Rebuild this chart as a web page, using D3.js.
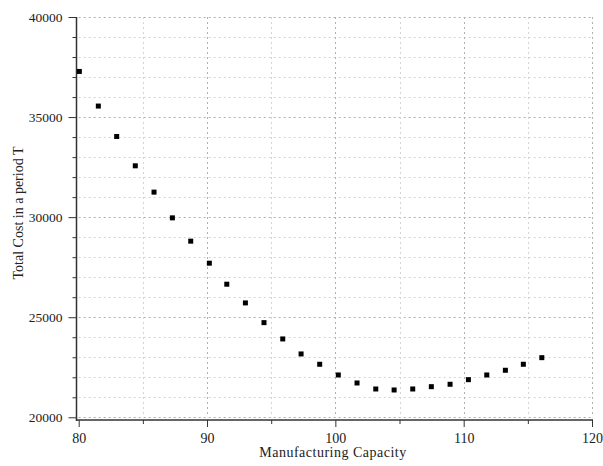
<!DOCTYPE html>
<html>
<head>
<meta charset="utf-8">
<script src="https://cdn.jsdelivr.net/npm/d3@7"></script>
<style>
  body { margin: 0; background: #fff; }
  text { font-family: "Liberation Serif", "Times New Roman", serif; fill: #222; }
</style>
</head>
<body>
<div id="chart"></div>
<script>
// capacity (x) and total cost (y)
var capacity = [80.05, 81.53, 82.96, 84.41, 85.87, 87.30, 88.73, 90.18, 91.54, 92.99,
                94.44, 95.90, 97.33, 98.78, 100.23, 101.69, 103.15, 104.58, 106.03, 107.48,
                108.94, 110.37, 111.80, 113.25, 114.65, 116.09];
var totalCost = [37280, 35550, 34030, 32565, 31250, 29965, 28800, 27700, 26650, 25715,
                 24730, 23915, 23165, 22650, 22115, 21715, 21415, 21365, 21415, 21530,
                 21650, 21880, 22115, 22350, 22650, 22980];

var xMajor = [80, 90, 100, 110, 120];
var xMinor = [85, 95, 105, 115];
var yMajor = [20000, 25000, 30000, 35000, 40000];
var yMinor = [21000, 22000, 23000, 24000, 26000, 27000, 28000, 29000,
              31000, 32000, 33000, 34000, 36000, 37000, 38000, 39000];

var width = 603, height = 466;
var plot = {left: 78.7, right: 592, top: 17, bottom: 417.3};
var axisX = 76.5, axisY = 420;

var svg = d3.select("#chart").append("svg")
    .attr("width", width)
    .attr("height", height);

var x = d3.scaleLinear().domain([80, 120]).range([plot.left, plot.right]);
var y = d3.scaleLinear().domain([20000, 40000]).range([plot.bottom, plot.top]);

//gridlines, minor ones lighter
var grid = svg.append("g").attr("class", "grid");
grid.selectAll("line.hminor").data(yMinor).enter().append("line")
    .attr("x1", plot.left).attr("x2", plot.right)
    .attr("y1", d => Math.round(y(d)) + 0.5).attr("y2", d => Math.round(y(d)) + 0.5)
    .attr("stroke", "#d4d4d4").attr("stroke-dasharray", "2,3");
grid.selectAll("line.hmajor").data(yMajor).enter().append("line")
    .attr("x1", plot.left).attr("x2", plot.right)
    .attr("y1", d => Math.round(y(d)) + 0.5).attr("y2", d => Math.round(y(d)) + 0.5)
    .attr("stroke", "#b0b0b0").attr("stroke-dasharray", "2,3");
grid.selectAll("line.vminor").data(xMinor).enter().append("line")
    .attr("y1", plot.top).attr("y2", plot.bottom)
    .attr("x1", d => Math.round(x(d)) + 0.5).attr("x2", d => Math.round(x(d)) + 0.5)
    .attr("stroke", "#d4d4d4").attr("stroke-dasharray", "2,3");
grid.selectAll("line.vmajor").data(xMajor.slice(1)).enter().append("line")
    .attr("y1", plot.top).attr("y2", plot.bottom)
    .attr("x1", d => Math.round(x(d)) + 0.5).attr("x2", d => Math.round(x(d)) + 0.5)
    .attr("stroke", "#b0b0b0").attr("stroke-dasharray", "2,3");

//axes
var yAxis = svg.append("g")
    .attr("transform", "translate(" + axisX + ",0)")
    .call(d3.axisLeft(y).tickValues(yMajor).tickSize(8).tickPadding(6)
        .tickFormat(d3.format("d")).tickSizeOuter(0));
yAxis.append("g")
    .call(d3.axisLeft(y).tickValues(yMinor).tickSize(4).tickFormat("").tickSizeOuter(0))
    .select(".domain").remove();
yAxis.selectAll("text").style("font-size", "13.5px").attr("font-family", null);

var xAxis = svg.append("g")
    .attr("transform", "translate(0," + axisY + ")")
    .call(d3.axisBottom(x).tickValues(xMajor).tickSize(7).tickPadding(6).tickSizeOuter(0));
xAxis.append("g")
    .call(d3.axisBottom(x).tickValues(xMinor).tickSize(4).tickFormat("").tickSizeOuter(0))
    .select(".domain").remove();
xAxis.selectAll("text").style("font-size", "14px").attr("font-family", null);

svg.selectAll(".domain").remove();
svg.selectAll(".tick line").attr("stroke", "#333");

//axis lines
svg.append("line")
    .attr("x1", axisX).attr("x2", axisX)
    .attr("y1", y(40000)).attr("y2", axisY + 1)
    .attr("stroke", "#333").attr("stroke-width", 1.5);
svg.append("line")
    .attr("x1", axisX).attr("x2", x(120) + 1)
    .attr("y1", axisY).attr("y2", axisY)
    .attr("stroke", "#333").attr("stroke-width", 1.5);

//points
svg.append("g").selectAll("rect")
    .data(capacity).enter().append("rect")
    .attr("x", (d, i) => x(d) - 2.5)
    .attr("y", (d, i) => y(totalCost[i]) - 2.5)
    .attr("width", 5)
    .attr("height", 5)
    .attr("fill", "#000");

//axis titles
svg.append("text")
    .attr("x", 333)
    .attr("y", 457)
    .attr("text-anchor", "middle")
    .style("font-size", "14px")
    .style("letter-spacing", "0.5px")
    .text("Manufacturing Capacity");

svg.append("text")
    .attr("transform", "translate(23,213) rotate(-90)")
    .attr("text-anchor", "middle")
    .style("font-size", "14px")
    .text("Total Cost in a period T");
</script>
</body>
</html>
